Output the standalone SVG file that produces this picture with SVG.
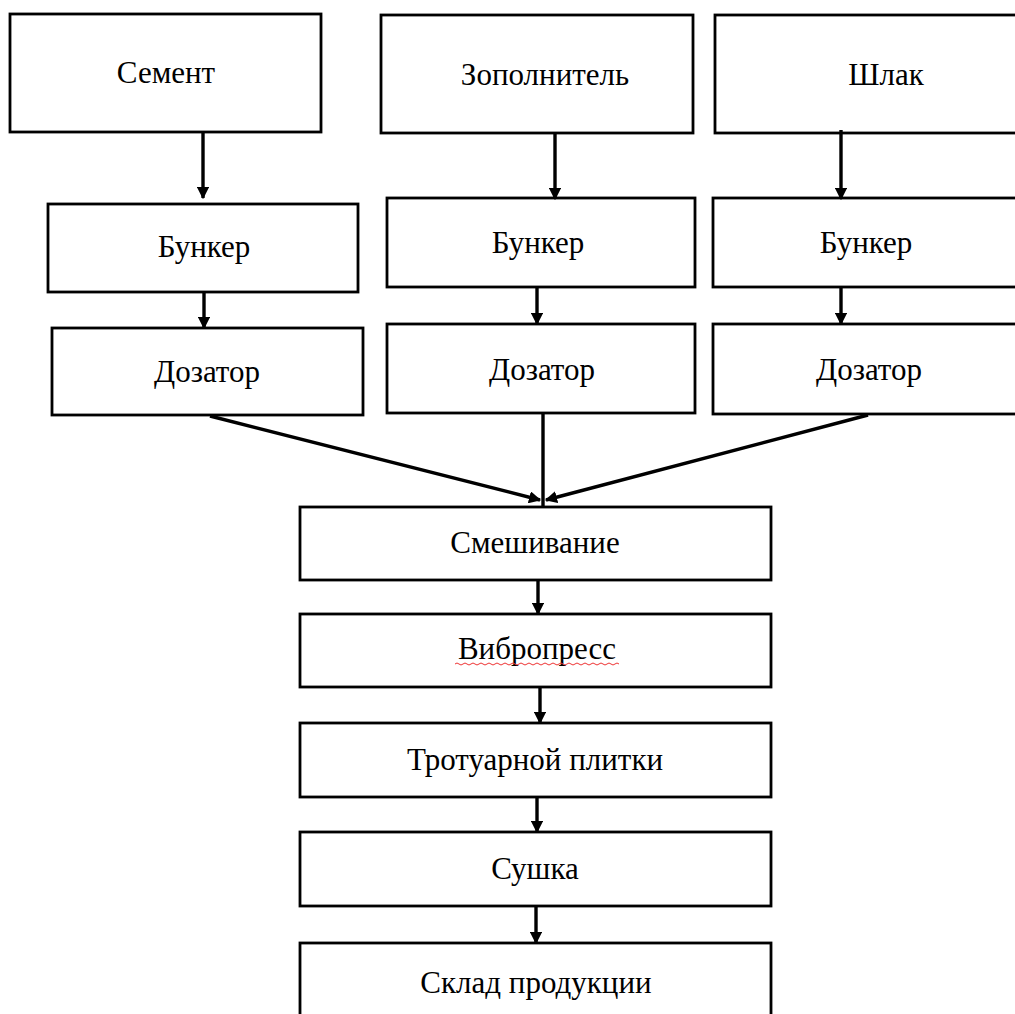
<svg xmlns="http://www.w3.org/2000/svg" width="1015" height="1014" viewBox="0 0 1015 1014">
<style>
.box{fill:#fff;stroke:#000;stroke-width:2.8}
.lbl{font-family:"Liberation Serif","Times New Roman",serif;font-size:31px;fill:#000;text-anchor:middle}
.con{stroke:#000;stroke-width:3.4;fill:none}
</style>
<defs>
<marker id="ah" viewBox="0 0 10 10" refX="9" refY="5" markerWidth="3.6" markerHeight="3.6" orient="auto" markerUnits="strokeWidth">
<path d="M0,0 L10,5 L0,10 z" fill="#000"/>
</marker>
</defs>
<rect width="1015" height="1014" fill="#fff"/>
<g id="n-cement"><rect class="box" x="10" y="14" width="311" height="118"/><text class="lbl" x="166" y="83">Семент</text></g>
<g id="n-zapoln"><rect class="box" x="381" y="15" width="312" height="118"/><text class="lbl" x="545" y="85">Зополнитель</text></g>
<g id="n-shlak"><rect class="box" x="715" y="15" width="350" height="118"/><text class="lbl" x="886" y="85">Шлак</text></g>
<g id="n-bunker1"><rect class="box" x="48" y="204" width="310" height="88"/><text class="lbl" x="204" y="257">Бункер</text></g>
<g id="n-bunker2"><rect class="box" x="387" y="198" width="308" height="89"/><text class="lbl" x="538" y="253">Бункер</text></g>
<g id="n-bunker3"><rect class="box" x="713" y="198" width="352" height="89"/><text class="lbl" x="866" y="253">Бункер</text></g>
<g id="n-doz1"><rect class="box" x="52" y="328" width="311" height="87"/><text class="lbl" x="207" y="382">Дозатор</text></g>
<g id="n-doz2"><rect class="box" x="387" y="324" width="308" height="89"/><text class="lbl" x="542" y="380">Дозатор</text></g>
<g id="n-doz3"><rect class="box" x="713" y="324" width="352" height="90"/><text class="lbl" x="869" y="380">Дозатор</text></g>
<g id="n-mix"><rect class="box" x="300" y="507" width="471" height="73"/><text class="lbl" x="535" y="553">Смешивание</text></g>
<g id="n-vibro"><rect class="box" x="300" y="614" width="471" height="73"/><text class="lbl" x="537" y="659">Вибропресс</text>
<path d="M455,664 q2,-2 4,0 t4,0 t4,0 t4,0 t4,0 t4,0 t4,0 t4,0 t4,0 t4,0 t4,0 t4,0 t4,0 t4,0 t4,0 t4,0 t4,0 t4,0 t4,0 t4,0 t4,0 t4,0 t4,0 t4,0 t4,0 t4,0 t4,0 t4,0 t4,0 t4,0 t4,0 t4,0 t4,0 t4,0 t4,0 t4,0 t4,0 t4,0 t4,0 t4,0 t4,0" fill="none" stroke="#e33" stroke-width="1"/></g>
<g id="n-plitka"><rect class="box" x="300" y="723" width="471" height="74"/><text class="lbl" x="535" y="770">Тротуарной плитки</text></g>
<g id="n-sushka"><rect class="box" x="300" y="832" width="471" height="74"/><text class="lbl" x="535" y="879">Сушка</text></g>
<g id="n-sklad"><rect class="box" x="300" y="943" width="471" height="80"/><text class="lbl" x="536" y="993">Склад продукции</text></g>
<g id="connectors">
<line class="con" x1="203" y1="132" x2="203" y2="198" marker-end="url(#ah)"/>
<line class="con" x1="555" y1="133" x2="555" y2="199" marker-end="url(#ah)"/>
<line class="con" x1="841" y1="130" x2="841" y2="199" marker-end="url(#ah)"/>
<line class="con" x1="204" y1="292" x2="204" y2="328" marker-end="url(#ah)"/>
<line class="con" x1="537" y1="287" x2="537" y2="324" marker-end="url(#ah)"/>
<line class="con" x1="841" y1="287" x2="841" y2="324" marker-end="url(#ah)"/>
<line class="con" x1="210" y1="416" x2="540" y2="500" marker-end="url(#ah)"/>
<line class="con" x1="543" y1="413" x2="543" y2="507"/>
<line class="con" x1="868" y1="415" x2="546" y2="500" marker-end="url(#ah)"/>
<line class="con" x1="538" y1="580" x2="538" y2="614" marker-end="url(#ah)"/>
<line class="con" x1="540" y1="687" x2="540" y2="723" marker-end="url(#ah)"/>
<line class="con" x1="537" y1="797" x2="537" y2="832" marker-end="url(#ah)"/>
<line class="con" x1="536" y1="906" x2="536" y2="943" marker-end="url(#ah)"/>
</g>
</svg>
